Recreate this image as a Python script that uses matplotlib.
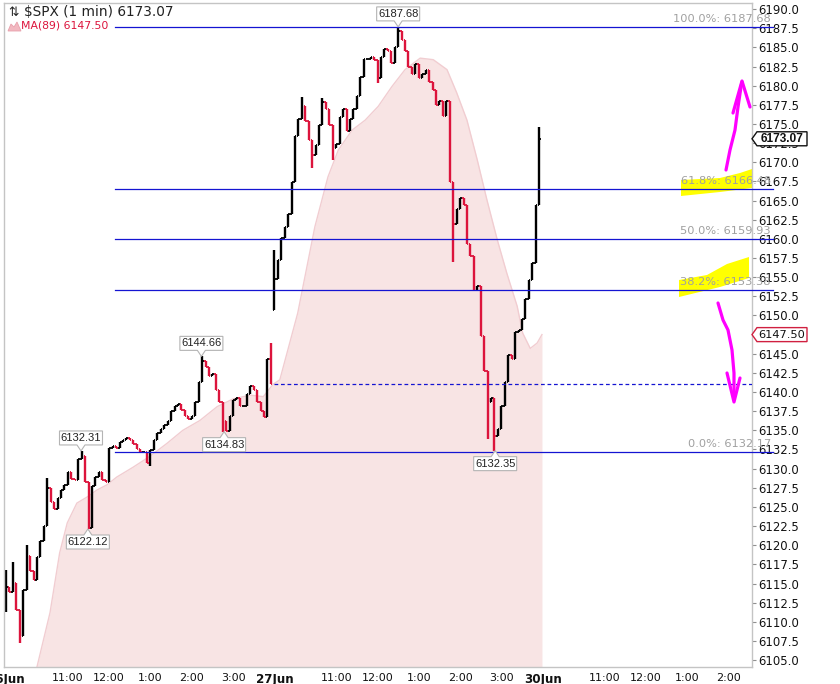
import numpy as np
import matplotlib
matplotlib.use("Agg")
import matplotlib.pyplot as plt
from matplotlib.patches import Polygon
from matplotlib.lines import Line2D
from matplotlib.transforms import IdentityTransform, blended_transform_factory

# ---------------- data ----------------
# 5-minute closes, minutes after 9:30 of each session
jun26_close = [6114.6, 6113.9, 6115.1, 6111.6, 6108.1, 6114.1, 6118.6, 6116.6, 6115.4, 6118.4,
               6120.5, 6122.5, 6127.5, 6125.7, 6124.7, 6126.2, 6127.2, 6127.9, 6129.5, 6128.7,
               6128.5, 6131.2, 6131.6, 6128.2, 6122.3, 6127.7, 6128.9, 6129.5, 6128.5, 6128.2,
               6132.7, 6132.9, 6132.7, 6133.5, 6133.7, 6134.0, 6133.7, 6133.2, 6132.5, 6132.2,
               6132.2, 6130.8, 6132.4, 6133.7, 6134.7, 6135.2, 6135.7, 6136.2, 6137.5, 6138.2,
               6138.5, 6137.7, 6136.9, 6136.5, 6136.9, 6138.7, 6141.3, 6144.1, 6143.3, 6142.1,
               6142.3, 6140.3, 6138.7, 6136.2, 6134.9, 6136.9, 6139.0, 6139.2, 6138.2, 6138.2,
               6139.8, 6140.8, 6140.3, 6138.7, 6137.5, 6136.7, 6144.3, 6141.0]
jun27_close = [6154.8, 6157.3, 6160.1, 6161.6, 6163.2, 6167.4, 6173.4, 6175.7, 6177.4, 6175.4,
               6172.9, 6170.9, 6172.2, 6174.9, 6177.9, 6176.9, 6174.9, 6171.9, 6172.4, 6175.9,
               6176.9, 6174.1, 6175.7, 6176.9, 6178.7, 6181.2, 6183.5, 6183.5, 6183.8, 6183.3,
               6181.0, 6183.8, 6184.8, 6184.5, 6183.0, 6185.0, 6187.2, 6186.0, 6184.5, 6182.5,
               6181.5, 6182.8, 6181.0, 6181.5, 6182.0, 6180.5, 6179.5, 6177.5, 6178.0, 6176.0,
               6178.0, 6167.4, 6161.9, 6163.9, 6165.4, 6164.4, 6159.3, 6157.8, 6153.3, 6153.8,
               6147.3, 6142.8, 6138.7, 6139.2, 6134.2, 6135.2, 6138.2, 6141.3, 6144.8, 6144.3,
               6147.8, 6148.1, 6149.6, 6152.1, 6154.6, 6156.8, 6164.4, 6173.07]
day_open = [6112.0, 6150.7]
bar_minutes = 5
session_minutes = 390

# intrabar extremes (time in minutes from 26 Jun 9:30, price)
ext_time = [0, 0, 10, 20, 30, 60, 109, 119, 208, 284, 317, 383,
            392, 430, 445, 460, 475, 540, 570, 652, 701, 711, 778]
ext_price = [6116.8, 6111.3, 6117.8, 6107.2, 6120.0, 6128.8, 6132.31, 6122.12, 6130.3, 6144.66, 6134.83, 6146.4,
             6158.6, 6178.5, 6169.3, 6178.4, 6170.3, 6180.4, 6187.68, 6157.0, 6133.9, 6132.35, 6174.6]

callout_time = [109, 119, 284, 317, 570, 711]
callout_price = [6132.31, 6122.12, 6144.66, 6134.83, 6187.68, 6132.35]
callout_side = ["above", "below", "above", "below", "above", "below"]

ma_time = [45, 64, 78, 89, 103, 118, 132, 147, 161, 185, 209, 234, 257, 282, 307, 330, 355, 374,
           388, 398, 424, 449, 468, 483, 503, 522, 541, 561, 580, 602, 621, 641, 655, 670, 685,
           699, 714, 728, 743, 751, 762, 772, 779]
ma_value = [6104.1, 6111.2, 6119.0, 6122.9, 6125.5, 6126.3, 6127.2, 6127.9, 6128.9, 6130.2, 6131.6,
            6133.3, 6135.0, 6136.3, 6138.1, 6139.1, 6139.6, 6139.4, 6141.0, 6141.6, 6150.3, 6161.6,
            6168.1, 6171.6, 6174.2, 6175.5, 6177.3, 6179.9, 6182.1, 6183.6, 6183.4, 6182.1, 6179.1,
            6175.5, 6170.3, 6165.1, 6159.9, 6155.5, 6151.2, 6147.7, 6145.7, 6146.4, 6147.50]

fib_pct = ["100.0%", "61.8%", "50.0%", "38.2%", "0.0%"]
fib_price = [6187.68, 6166.48, 6159.93, 6153.38, 6132.17]
fib_start_time = 159
prev_close = 6141.02
last_close = 6173.07
ma_last = 6147.50

xtick_time = [0, 90, 150, 210, 270, 330, 390, 480, 540, 600, 660, 720, 780, 870, 930, 990, 1050]
xtick_label = ["26Jun", "11:00", "12:00", "1:00", "2:00", "3:00", "27Jun", "11:00", "12:00", "1:00",
               "2:00", "3:00", "30Jun", "11:00", "12:00", "1:00", "2:00"]

# ---------------- figure ----------------
W, H = 840, 684
fig = plt.figure(figsize=(W / 100, H / 100), dpi=100)
fig.patch.set_facecolor("white")
AX_L, AX_R, AX_T, AX_B = 4, 752, 3, 667
ax = fig.add_axes([AX_L / W, 1 - AX_B / H, (AX_R - AX_L) / W, (AX_B - AX_T) / H])
ax.set_facecolor("none")
ax.set_xlim(-2.9, 1084.3)
ax.set_ylim(6104.1, 6190.8)
ax.set_autoscale_on(False)
ymin, ymax = ax.get_ylim()
xmin, xmax = ax.get_xlim()

RED = "#dc143c"
BLUE = "#1414d2"
IDT = IdentityTransform()


def P(pts):
    return [(x, H - y) for x, y in pts]


# yellow highlighter strokes (under everything in the axes)
yellow_a = [(681, 180), (720, 178), (740, 173), (752, 169), (752, 188), (720, 192), (681, 196)]
yellow_b = [(679, 280), (707, 275), (727, 264), (749, 257), (749, 278), (720, 287), (679, 297)]
for poly in (yellow_a, yellow_b):
    fig.add_artist(Polygon(P(poly), closed=True, transform=IDT, fc="#ffff00", ec="none", zorder=-1))

# MA(89) area
ax.fill_between(ma_time, ymin, ma_value, color="#f8e4e4", lw=0, zorder=1)
ax.plot(ma_time, ma_value, color="#f1cdd1", lw=1.0, zorder=1.2)

# price bars
for d, closes in enumerate([jun26_close, jun27_close]):
    c = np.array(closes, float)
    t = d * session_minutes + np.arange(len(c)) * bar_minutes
    o = np.concatenate([[day_open[d]], c[:-1]])
    hi = np.maximum(o, c)
    lo = np.minimum(o, c)
    for et, ep in zip(ext_time, ext_price):
        if t[0] - 3 <= et <= t[-1] + 4:
            i = int(np.argmin(np.abs(t - et)))
            hi[i] = max(hi[i], ep)
            lo[i] = min(lo[i], ep)
    col = ["black" if cc >= oo else RED for cc, oo in zip(c, o)]
    ax.vlines(t, lo, hi, colors=col, lw=1.7, zorder=2)
    ax.hlines(o, t - 2.2, t, colors=col, lw=1.3, zorder=2)
    ax.hlines(c, t, t + 2.2, colors=col, lw=1.3, zorder=2)

# fibonacci lines and labels
trans_lab = blended_transform_factory(IDT, ax.transData)
for pct, fp in zip(fib_pct, fib_price):
    ax.plot([fib_start_time, 1115], [fp, fp], color=BLUE, lw=0.9, zorder=3, clip_on=False)
    ax.annotate(f"{pct}: {fp:.2f}", xy=(771, fp), xycoords=trans_lab, xytext=(0, 3.6),
                textcoords="offset points", ha="right", va="baseline", fontsize=8.2,
                color="#a0a0a0", zorder=4, annotation_clip=False)

# previous close dashed line
ax.plot([session_minutes, xmax], [prev_close, prev_close], color=BLUE, lw=0.9,
        ls=(0, (3, 2.2)), zorder=3)

# axes styling
for s in ax.spines.values():
    s.set_color("#c4c4c4")
    s.set_linewidth(1.0)
ax.yaxis.tick_right()
yt = np.arange(6105.0, 6190.01, 2.5)
ax.set_yticks(yt)
ax.set_yticklabels([f"{v:.1f}" for v in yt])
ax.tick_params(axis="y", length=3, width=0.8, color="#909090", pad=1.5, labelsize=8.4,
               labelcolor="#111111", right=True, left=False)
ax.set_xticks(xtick_time)
ax.set_xticklabels(xtick_label)
ax.tick_params(axis="x", length=0, pad=4, labelsize=8, labelcolor="#111111")
for lab in ax.get_xticklabels():
    if "Jun" in lab.get_text():
        lab.set_fontweight("bold")
        lab.set_fontsize(8.6)

# callout boxes on extremes
for t0, p0, side in zip(callout_time, callout_price, callout_side):
    x, y = ax.transData.transform((t0, p0))
    w, h, n, gap = 43, 14, 4, 6
    if side == "above":
        yb = y + gap
        pts = [(x - w / 2, yb), (x - n, yb), (x, y), (x + n, yb), (x + w / 2, yb),
               (x + w / 2, yb + h), (x - w / 2, yb + h)]
        ty = yb + h / 2
    else:
        yb = y - gap
        pts = [(x - w / 2, yb), (x - n, yb), (x, y), (x + n, yb), (x + w / 2, yb),
               (x + w / 2, yb - h), (x - w / 2, yb - h)]
        ty = yb - h / 2
    fig.add_artist(Polygon(pts, closed=True, transform=IDT, fc="white", ec="#b4b4b4", lw=0.8, zorder=6))
    fig.text(x, ty, f"{p0:.2f}", transform=IDT, ha="center", va="center", fontsize=8,
             family="Liberation Sans", color="#222222", zorder=7)


# right-side price tags
def tag(price, txt, edge, bold):
    yc = ax.transData.transform((0, price))[1]
    pts = [(752, yc), (757, yc + 7), (807, yc + 7), (807, yc - 7), (757, yc - 7)]
    fig.add_artist(Polygon(pts, closed=True, transform=IDT, fc="white", ec=edge, lw=1.0, zorder=6))
    fig.text(782, yc, txt, transform=IDT, ha="center", va="center", fontsize=8.6 if bold else 8.2,
             fontweight="bold" if bold else "normal",
             family="Liberation Sans" if bold else "DejaVu Sans", color="#111111", zorder=7)


tag(last_close, f"{last_close:.2f}", "#111111", True)
tag(ma_last, f"{ma_last:.2f}", "#d02040", False)

# legend (top-left)
fig.text(8, H - 12, "\u21c5", transform=IDT, ha="left", va="center", fontsize=9, color="#222222")
fig.text(24, H - 12, r"\$SPX (1 min) " + f"{last_close:.2f}", transform=IDT, ha="left", va="center",
         fontsize=9.8, color="#222222")
fig.add_artist(Polygon(P([(8, 31), (11, 24), (14, 27), (17, 22), (21, 31)]), closed=True,
                       transform=IDT, fc="#f2b8c0", ec="#e8a0ac", lw=0.6, zorder=6))
fig.text(21, H - 26, f"MA(89) {ma_last:.2f}", transform=IDT, ha="left", va="center",
         fontsize=7.8, color=RED)

# hand-drawn magenta arrows
MAG = "#ff00ff"
up_shaft = [(726, 170), (730, 150), (735, 130), (738, 107), (741, 87), (742, 82)]
up_head = [(733, 113), (742, 81), (750, 107)]
down_shaft = [(718, 303), (723, 320), (728, 330), (732, 350), (734, 373), (734, 400)]
down_head = [(727, 373), (734, 402), (740, 378)]
for line in (up_shaft, up_head, down_shaft, down_head):
    pts = P(line)
    fig.add_artist(Line2D([p[0] for p in pts], [p[1] for p in pts], transform=IDT, color=MAG,
                          lw=2.3, solid_capstyle="round", solid_joinstyle="round", zorder=9))

fig.savefig("out.png", dpi=100, facecolor="white")
